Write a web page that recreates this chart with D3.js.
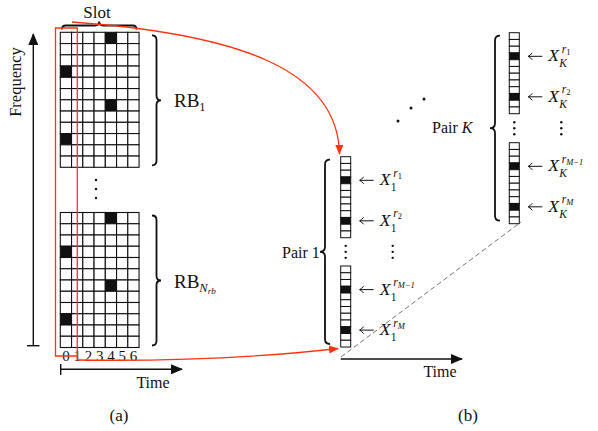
<!DOCTYPE html>
<html>
<head>
<meta charset="utf-8">
<script src="https://cdn.jsdelivr.net/npm/d3@7"></script>
<style>
  body { margin: 0; background: #fff; }
  text { font-family: "Liberation Serif", "Times New Roman", serif; fill: #111; }
</style>
</head>
<body>
<svg id="fig" width="598" height="431"></svg>
<script>
// ---- data ----
const slotLabels = ["0", "1", "2", "3", "4", "5", "6"];
const rowIds = d3.range(12);
const filledCells = [[0, 4], [3, 0], [6, 4], [9, 0]];   // [row, slot]
const rbNames = [["RB", "1", ""], ["RB", "N", "rb"]];
const pairIds = ["1", "K"];
const rxSupers = [["r", "1"], ["r", "2"], ["r", "M\u22121"], ["r", "M"]];

// rows of slot 0 that carry a pilot -> these make up each pair column
const slot0Rows = filledCells.filter(c => c[1] === 0).map(c => c[0]);

const svg = d3.select("#fig");
const RED = "#ff3311";

// markers
const defs = svg.append("defs");
defs.append("marker").attr("id", "blk")
    .attr("viewBox", "0 0 12 10").attr("refX", 11).attr("refY", 5)
    .attr("markerWidth", 12).attr("markerHeight", 10)
    .attr("markerUnits", "userSpaceOnUse").attr("orient", "auto")
  .append("path").attr("d", "M0,0 L12,5 L0,10 z").attr("fill", "#111");
defs.append("marker").attr("id", "red")
    .attr("viewBox", "0 0 10 8").attr("refX", 9).attr("refY", 4)
    .attr("markerWidth", 10).attr("markerHeight", 8)
    .attr("markerUnits", "userSpaceOnUse").attr("orient", "auto")
  .append("path").attr("d", "M0,0 L10,4 L0,8 z").attr("fill", RED);

// curly braces
function vBrace(x, y1, y2, w, d) {
    const m = (y1 + y2) / 2, h = w / 2, xm = x + d * h, xt = x + d * w;
    return `M${x},${y1} Q${xm},${y1} ${xm},${y1 + h} L${xm},${m - h} Q${xm},${m} ${xt},${m}` +
           ` Q${xm},${m} ${xm},${m + h} L${xm},${y2 - h} Q${xm},${y2} ${x},${y2}`;
}
function hBrace(y, x1, x2, w, d) {
    const m = (x1 + x2) / 2, h = w / 2, ym = y + d * h, yt = y + d * w;
    return `M${x1},${y} Q${x1},${ym} ${x1 + h},${ym} L${m - h},${ym} Q${m},${ym} ${m},${yt}` +
           ` Q${m},${ym} ${m + h},${ym} L${x2 - h},${ym} Q${x2},${ym} ${x2},${y}`;
}
function brace(d) {
    svg.append("path").attr("d", d).attr("fill", "none")
        .attr("stroke", "#111").attr("stroke-width", 1.8);
}
function dots(x, ys) {
    svg.selectAll(null).data(ys).enter().append("circle")
        .attr("cx", x).attr("cy", d => d).attr("r", 1.2).attr("fill", "#111");
}

// ---- (a) resource grids ----
const cell = 11.25;
const gx0 = 60.3;
const gridTops = [32.3, 212.5];
const x = d3.scaleBand().domain(slotLabels).range([gx0, gx0 + slotLabels.length * cell]);

gridTops.forEach((top, gi) => {
    const y = d3.scaleBand().domain(rowIds).range([top, top + rowIds.length * cell]);
    const g = svg.append("g");
    rowIds.forEach(r => {
        g.selectAll(null).data(slotLabels).enter().append("rect")
            .attr("x", s => x(s)).attr("y", y(r))
            .attr("width", x.bandwidth()).attr("height", y.bandwidth())
            .attr("fill", s => filledCells.some(c => c[0] === r && slotLabels[c[1]] === s) ? "#111" : "#fff")
            .attr("stroke", "#111").attr("stroke-width", 1.1);
    });
    // RB brace + label
    const b0 = top + 3, b1 = top + rowIds.length * cell - 2;
    brace(vBrace(152, b0, b1, 9, 1));
    const t = svg.append("text").attr("x", 174).attr("y", (b0 + b1) / 2 + 7).attr("font-size", 19);
    t.append("tspan").text(rbNames[gi][0]);
    t.append("tspan").attr("font-size", 12.5).attr("dy", 4)
        .attr("font-style", gi ? "italic" : "normal").text(rbNames[gi][1]);
    if (rbNames[gi][2]) {
        t.append("tspan").attr("font-size", 9).attr("dy", 2.5)
            .attr("font-style", "italic").text(rbNames[gi][2]);
    }
});
dots(96, [180, 189, 198]);

// slot labels under the lower grid
svg.selectAll(null).data(slotLabels).enter().append("text")
    .attr("x", s => x(s) + x.bandwidth() / 2).attr("y", 361)
    .attr("text-anchor", "middle").attr("font-size", 15).text(s => s);

// slot brace
brace(hBrace(29.5, gx0 + 1.5, gx0 + 7 * cell - 2.5, 8, -1));
svg.append("text").attr("x", 97).attr("y", 18).attr("text-anchor", "middle")
    .attr("font-size", 17).text("Slot");

// frequency axis
svg.append("line").attr("x1", 33.3).attr("x2", 33.3).attr("y1", 345.7).attr("y2", 34)
    .attr("stroke", "#111").attr("stroke-width", 1.4).attr("marker-end", "url(#blk)");
svg.append("line").attr("x1", 27).attr("x2", 39.5).attr("y1", 345.7).attr("y2", 345.7)
    .attr("stroke", "#111").attr("stroke-width", 1.4);
svg.append("text").attr("transform", "translate(21,82) rotate(-90)")
    .attr("text-anchor", "middle").attr("font-size", 16.5).text("Frequency");

// time axis (a)
svg.append("line").attr("x1", 60.7).attr("x2", 182).attr("y1", 369.3).attr("y2", 369.3)
    .attr("stroke", "#111").attr("stroke-width", 1.4).attr("marker-end", "url(#blk)");
svg.append("line").attr("x1", 60.7).attr("x2", 60.7).attr("y1", 364).attr("y2", 375)
    .attr("stroke", "#111").attr("stroke-width", 1.4);
svg.append("text").attr("x", 153).attr("y", 388).attr("text-anchor", "middle")
    .attr("font-size", 16).text("Time");
svg.append("text").attr("x", 119).attr("y", 421).attr("text-anchor", "middle")
    .attr("font-size", 17).text("(a)");

// ---- (b) pilot columns per pair ----
const pairLayout = [
    { x: 340.7, tops: [156.7, 266.0], braceX: 330, textX: 282, textY: 258 },
    { x: 509.3, tops: [32.7, 142.7], braceX: 500, textX: 432, textY: 133 }
];
const colW = 10, blockH = 81;

pairIds.forEach((pid, pi) => {
    const L = pairLayout[pi];
    L.tops.forEach((top, bi) => {
        const y = d3.scaleBand().domain(rowIds).range([top, top + blockH]);
        svg.selectAll(null).data(rowIds).enter().append("rect")
            .attr("x", L.x).attr("y", r => y(r))
            .attr("width", colW).attr("height", y.bandwidth())
            .attr("fill", r => slot0Rows.includes(r) ? "#111" : "#fff")
            .attr("stroke", "#111").attr("stroke-width", 1);
        slot0Rows.forEach((r, k) => {
            const cy = y(r) + y.bandwidth() / 2;
            const ax1 = L.x + colW + 9, ax2 = L.x + colW + 23;
            svg.append("path")
                .attr("d", `M${ax2},${cy} L${ax1},${cy} M${ax1 + 4},${cy - 3.5} Q${ax1 + 1.5},${cy - 0.6} ${ax1},${cy} Q${ax1 + 1.5},${cy + 0.6} ${ax1 + 4},${cy + 3.5}`)
                .attr("fill", "none").attr("stroke", "#111").attr("stroke-width", 1);
            const sup = rxSupers[bi * 2 + k];
            const tx = L.x + colW + 29, ty = cy + 5;
            svg.append("text").attr("x", tx).attr("y", ty).attr("font-size", 17.5)
                .attr("font-style", "italic").text("X");
            svg.append("text").attr("x", tx + 11).attr("y", ty + 6).attr("font-size", 11.5)
                .attr("font-style", pid === "K" ? "italic" : "normal").text(pid);
            const st = svg.append("text").attr("x", tx + 13.5).attr("y", ty - 8.5).attr("font-size", 11.5);
            st.append("tspan").attr("font-style", "italic").text(sup[0]);
            st.append("tspan").attr("font-size", 8.5).attr("dy", 2)
                .attr("font-style", sup[1] === "1" || sup[1] === "2" ? "normal" : "italic").text(sup[1]);
        });
    });
    const gapMid = (L.tops[0] + blockH + L.tops[1]) / 2;
    dots(L.x + colW / 2, [gapMid - 6, gapMid, gapMid + 6]);
    dots(L.x + colW + 42, [gapMid - 6, gapMid, gapMid + 6]);
    const by0 = L.tops[0] + 3, by1 = L.tops[1] + blockH - 3;
    brace(vBrace(L.braceX, by0, by1, 10, -1));
    const t = svg.append("text").attr("x", L.textX).attr("y", L.textY).attr("font-size", 16);
    t.append("tspan").text("Pair ");
    t.append("tspan").attr("font-style", pid === "K" ? "italic" : "normal").text(pid);
});

// dots between pairs
svg.selectAll(null).data([[398, 121], [411, 108], [424, 99]]).enter().append("circle")
    .attr("cx", d => d[0]).attr("cy", d => d[1]).attr("r", 1.5).attr("fill", "#111");

// perspective dashed line
svg.append("line").attr("x1", 341).attr("y1", 357).attr("x2", 521).attr("y2", 222)
    .attr("stroke", "#777").attr("stroke-width", 1).attr("stroke-dasharray", "5,3");

// time axis (b)
svg.append("line").attr("x1", 340.7).attr("x2", 462).attr("y1", 359).attr("y2", 359)
    .attr("stroke", "#111").attr("stroke-width", 1.4).attr("marker-end", "url(#blk)");
svg.append("text").attr("x", 440).attr("y", 377).attr("text-anchor", "middle")
    .attr("font-size", 16).text("Time");
svg.append("text").attr("x", 468).attr("y", 421).attr("text-anchor", "middle")
    .attr("font-size", 17).text("(b)");

// ---- red mapping: slot 0 -> pair columns ----
svg.append("path")
    .attr("d", "M77.3,360 L77.3,28 L55.5,28 L55.5,356 L77.3,356")
    .attr("fill", "none").attr("stroke", RED).attr("stroke-width", 1.3);
svg.append("path")
    .attr("d", "M72,22 C240,34 338,70 339.5,154")
    .attr("fill", "none").attr("stroke", RED).attr("stroke-width", 1.3).attr("marker-end", "url(#red)");
svg.append("path")
    .attr("d", "M77.3,360 Q220,362 338,348.5")
    .attr("fill", "none").attr("stroke", RED).attr("stroke-width", 1.3).attr("marker-end", "url(#red)");
</script>
</body>
</html>
